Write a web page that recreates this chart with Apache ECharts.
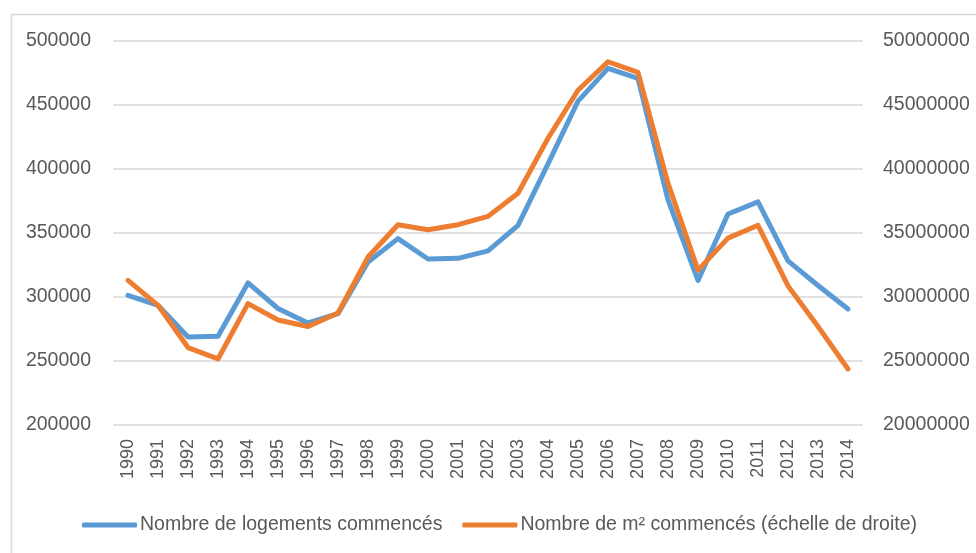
<!DOCTYPE html>
<html>
<head>
<meta charset="utf-8">
<style>html,body{margin:0;padding:0;background:#fff}#c{width:976px;height:553px}</style>
<script src="https://cdn.jsdelivr.net/npm/echarts@6/dist/echarts.min.js"></script>
</head>
<body>
<div id="c"></div>
<script>
const years = ['1990','1991','1992','1993','1994','1995','1996','1997','1998','1999','2000','2001','2002','2003','2004','2005','2006','2007','2008','2009','2010','2011','2012','2013','2014'];
const logements = [301300, 293500, 268700, 269300, 311000, 291000, 279700, 287000, 327300, 345600, 329700, 330200, 336000, 356000, 404000, 453000, 478600, 470800, 375800, 313000, 364800, 374300, 328200, 309000, 290600];
const m2 = [31300000, 29350000, 26050000, 25160000, 29480000, 28200000, 27700000, 28750000, 33120000, 35650000, 35260000, 35650000, 36300000, 38100000, 42400000, 46150000, 48380000, 47550000, 38880000, 32100000, 34600000, 35600000, 30870000, 27700000, 24380000];
const seriesNames = ['Nombre de logements commencés', 'Nombre de m² commencés (échelle de droite)'];

const chart = echarts.init(document.getElementById('c'), null, {renderer: 'canvas'});
const font = '"Liberation Sans", Arial, sans-serif';
chart.setOption({
  backgroundColor: '#fff',
  animation: false,
  graphic: [{
    type: 'rect', left: 9, top: 12, z: -1,
    shape: {width: 1000, height: 600},
    style: {fill: 'none', stroke: '#d9d9d9', lineWidth: 1.5}
  }],
  grid: {left: 113, right: 113, top: 41, bottom: 128},
  legend: {
    left: 77, top: 510,
    itemWidth: 55, itemHeight: 5, itemGap: 20,
    icon: 'roundRect',
    textStyle: {fontFamily: font, fontSize: 19.5, color: '#595959', padding: [0,0,0,-2]},
    data: seriesNames
  },
  xAxis: {
    type: 'category', data: years, boundaryGap: true,
    axisLine: {show: false}, axisTick: {show: false},
    axisLabel: {rotate: 90, fontFamily: font, fontSize: 18, color: '#595959', margin: 14, interval: 0}
  },
  yAxis: [{
    type: 'value', min: 200000, max: 500000, interval: 50000, position: 'left',
    axisLine: {show: false}, axisTick: {show: false},
    splitLine: {lineStyle: {color: '#d9d9d9', width: 1.5}},
    axisLabel: {fontFamily: font, fontSize: 19.5, color: '#595959', margin: 22, formatter: v => String(v)}
  }, {
    type: 'value', min: 20000000, max: 50000000, interval: 5000000, position: 'right',
    axisLine: {show: false}, axisTick: {show: false},
    splitLine: {show: false},
    axisLabel: {fontFamily: font, fontSize: 19.5, color: '#595959', margin: 20, formatter: v => String(v)}
  }],
  series: [{
    name: seriesNames[0], type: 'line', data: logements, yAxisIndex: 0,
    symbol: 'none', color: '#5B9BD5',
    lineStyle: {width: 5, color: '#5B9BD5', cap: 'round', join: 'round'}
  }, {
    name: seriesNames[1], type: 'line', data: m2, yAxisIndex: 1,
    symbol: 'none', color: '#ED7D31',
    lineStyle: {width: 5, color: '#ED7D31', cap: 'round', join: 'round'}
  }]
});
</script>
</body>
</html>
